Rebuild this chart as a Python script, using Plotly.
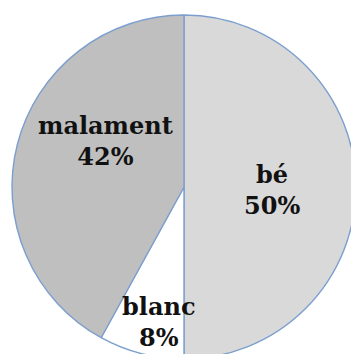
import plotly.graph_objects as go

labels = ["bé", "blanc", "malament"]
values = [50, 8, 42]
colors = ["#d9d9d9", "#ffffff", "#bfbfbf"]

# label anchor positions (paper coords) for each slice
label_x = [0.756, 0.427, 0.273]
label_y = [0.491, 0.108, 0.634]

total = sum(values)
fig = go.Figure(go.Pie(
    labels=labels, values=values, sort=False, direction="clockwise", rotation=0,
    marker=dict(colors=colors, line=dict(color="#7c9fcf", width=1.4)),
    textinfo="none", hoverinfo="label+percent", showlegend=False,
    domain=dict(x=[0, 1], y=[0, 1]),
))

for lab, v, x, y in zip(labels, values, label_x, label_y):
    fig.add_annotation(
        x=x, y=y, xref="paper", yref="paper", showarrow=False,
        xanchor="center", yanchor="middle",
        text=f"{lab}<br>{round(v / total * 100)}%",
        font=dict(family="DejaVu Serif", size=24, color="#111111", weight="bold"),
        align="center",
    )

fig.update_layout(
    width=360, height=362, autosize=False,
    margin=dict(l=12, r=4, t=15, b=3),
    paper_bgcolor="white", plot_bgcolor="white",
)

fig.write_html(
    "out.html",
    post_script="document.documentElement.style.overflow='hidden';document.body.style.overflow='hidden';document.body.style.margin='0';",
)
